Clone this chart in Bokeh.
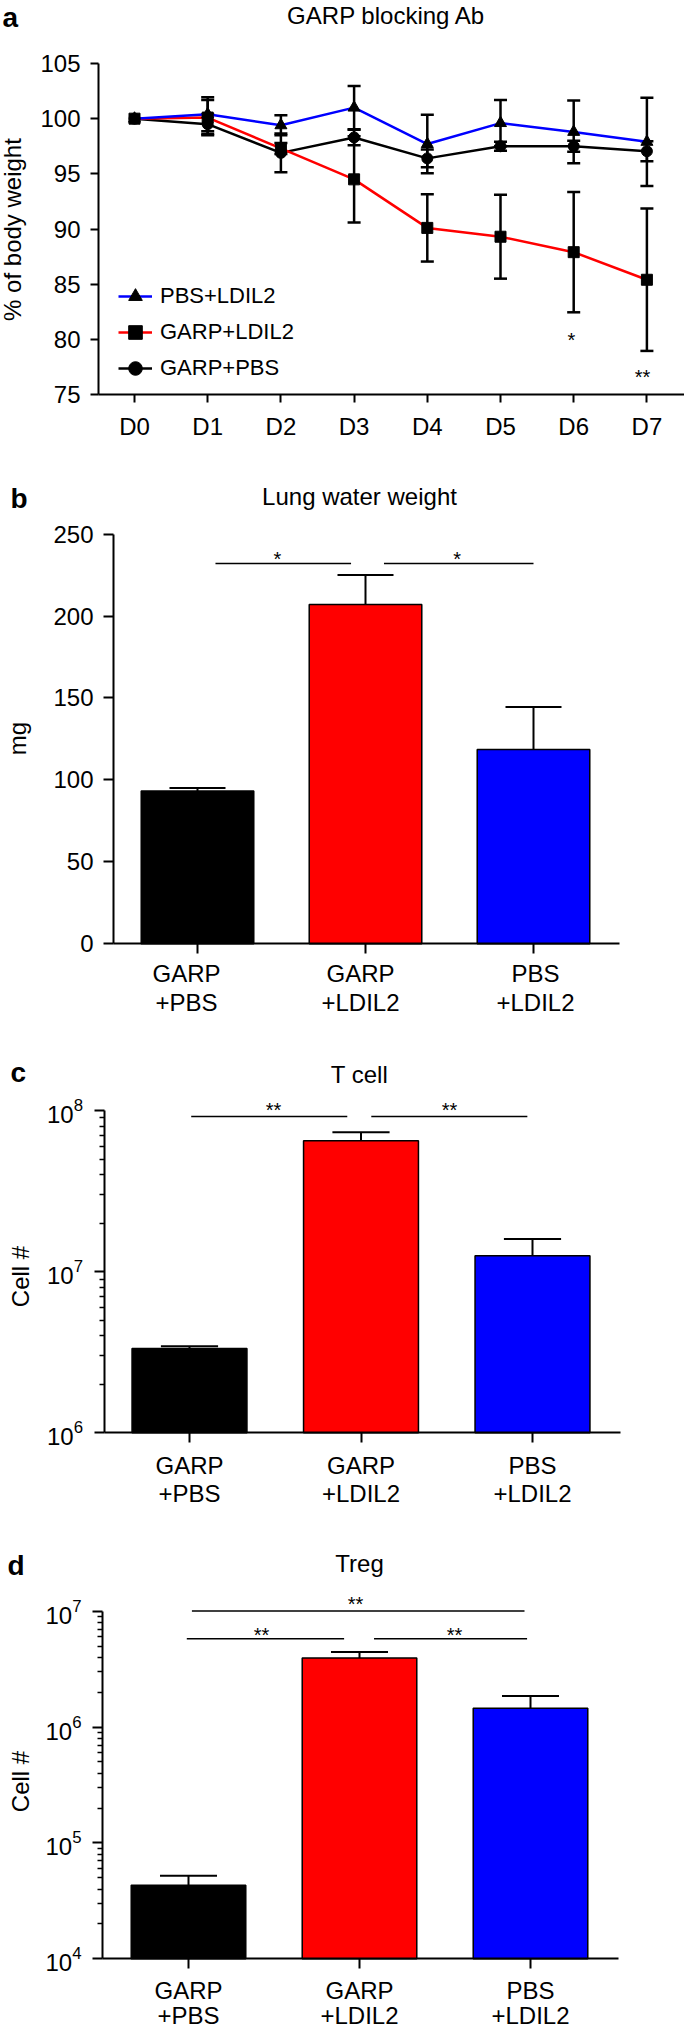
import math
from bokeh.plotting import figure
from bokeh.models import Range1d, FixedTicker, Label, Legend, LegendItem
from bokeh.layouts import column
from bokeh.embed import file_html
from bokeh.resources import INLINE

FONT = "Liberation Sans"
PAGE_W = 684
MID = 0.345    # distance (in em) from the baseline to the middle of the text box

# ---------------- data ----------------
days = ["D0", "D1", "D2", "D3", "D4", "D5", "D6", "D7"]
pbs_ldil2 = [100.0, 100.4, 99.4, 101.0, 97.7, 99.6, 98.8, 97.9]
pbs_ldil2_err = [0.0, 1.55, 0.9, 1.95, 2.65, 2.1, 2.85, 4.0]
garp_ldil2 = [100.0, 100.1, 97.3, 94.5, 90.1, 89.3, 87.9, 85.4]
garp_ldil2_err = [0.0, 1.6, 0.5, 3.9, 3.05, 3.8, 5.45, 6.45]
garp_pbs = [100.0, 99.5, 96.9, 98.3, 96.4, 97.5, 97.5, 97.05]
garp_pbs_err = [0.0, 0.9, 1.75, 0.7, 0.8, 0.4, 0.5, 0.9]
weight_stars = [(6, "*"), (7, "**")]

groups = ["GARP\n+PBS", "GARP\n+LDIL2", "PBS\n+LDIL2"]
lung_water_mg = [93.2, 207.0, 118.5]
lung_water_sem = [1.8, 18.0, 26.0]
tcell_count = [3.34e6, 6.48e7, 1.256e7]
tcell_sem = [0.10e6, 0.85e7, 0.34e7]
treg_count = [4.31e4, 3.94e6, 1.45e6]
treg_sem = [0.9e4, 0.51e6, 0.40e6]

lung_sig = [(0, 1, "*"), (1, 2, "*")]
tcell_sig = [(0, 1, "**"), (1, 2, "**")]
treg_sig = [(0, 1, "**"), (1, 2, "**"), (0, 2, "**")]

BAR_COLORS = ["#000000", "#FF0000", "#0000FF"]


# ---------------- geometry helpers (page pixel -> data) ----------------
class Geo:
    def __init__(self, top, h, L, R, T, B, c0, sp, ylo, yhi, log=False):
        self.top, self.h = top, h
        self.L, self.R, self.T, self.B = L, R, T, B
        self.c0, self.sp = c0, sp
        self.ylo, self.yhi, self.log = ylo, yhi, log

    def x(self, px):
        return (px - self.c0) / self.sp

    def y(self, py):
        f = (self.B - py) / (self.B - self.T)
        if self.log:
            a, b = math.log10(self.ylo), math.log10(self.yhi)
            return 10 ** (a + f * (b - a))
        return self.ylo + f * (self.yhi - self.ylo)


def make_fig(g, tick=8, standoff=10):
    p = figure(width=PAGE_W, height=g.h,
               x_range=Range1d(g.x(0), g.x(PAGE_W)),
               y_range=Range1d(g.y(g.top + g.h), g.y(g.top)),
               y_axis_type="log" if g.log else "linear",
               output_backend="svg", toolbar_location=None,
               min_border_left=0, min_border_right=0,
               min_border_top=0, min_border_bottom=0)
    p.title.visible = False
    p.outline_line_color = None
    p.xgrid.visible = False
    p.ygrid.visible = False
    p.background_fill_color = "white"
    p.border_fill_color = "white"
    xa, ya = p.xaxis[0], p.yaxis[0]
    xa.fixed_location = g.ylo
    xa.bounds = (g.x(g.L), g.x(g.R))
    ya.fixed_location = g.x(g.L)
    ya.bounds = (g.ylo, g.yhi)
    for ax in (xa, ya):
        ax.axis_line_color = "black"
        ax.axis_line_width = 2
        ax.major_tick_line_color = "black"
        ax.major_tick_line_width = 2
        ax.major_tick_in = 0
        ax.major_tick_out = tick
        ax.minor_tick_line_color = None
        ax.major_label_text_font = FONT
        ax.major_label_text_font_size = "24px"
        ax.major_label_text_color = "black"
    ya.major_label_standoff = standoff
    xa.major_label_standoff = 10
    return p


def text(p, g, px, baseline_py, s, fs=24, bold=False, align="center", angle=0.0, data_x=None):
    """Place text so that its baseline lies at page y baseline_py (middle-anchored)."""
    p.add_layout(Label(x=g.x(px) if data_x is None else data_x,
                       y=g.y(baseline_py - MID * fs), text=s,
                       text_font=FONT, text_font_size="%dpx" % fs,
                       text_font_style="bold" if bold else "normal",
                       text_align=align, text_baseline="middle", angle=angle,
                       text_color="black"))


def vtext(p, g, baseline_px, py, s, fs=24):
    """Vertical text reading upwards; its baseline lies at page x baseline_px."""
    p.add_layout(Label(x=g.x(baseline_px - MID * fs), y=g.y(py), text=s,
                       text_font=FONT, text_font_size="%dpx" % fs,
                       text_align="center", text_baseline="middle", angle=math.pi / 2,
                       text_color="black"))


def star(p, g, data_x, center_py, s, fs=20):
    p.add_layout(Label(x=data_x, y=g.y(center_py + 0.235 * fs), text=s,
                       text_font=FONT, text_font_size="%dpx" % fs,
                       text_align="center", text_baseline="middle", text_color="black"))


# ---------------- panel a ----------------
ga = Geo(0, 455, 98, 684, 63, 394, 134, 73.2, 75, 105)
pa = make_fig(ga)
xs = list(range(len(days)))
pa.xaxis[0].ticker = FixedTicker(ticks=xs)
pa.xaxis[0].major_label_overrides = {i: d for i, d in enumerate(days)}
pa.yaxis[0].ticker = FixedTicker(ticks=[75, 80, 85, 90, 95, 100, 105])

series = [
    ("PBS+LDIL2", pbs_ldil2, pbs_ldil2_err, "#0000FF", "triangle", 12),
    ("GARP+LDIL2", garp_ldil2, garp_ldil2_err, "#FF0000", "square", 11),
    ("GARP+PBS", garp_pbs, garp_pbs_err, "#000000", "circle", 11),
]
cap = 0.089
for name, vals, errs, col, mk, sz in series:
    ex = [i for i, e in enumerate(errs) if e > 0]
    lo = [vals[i] - errs[i] for i in ex]
    hi = [vals[i] + errs[i] for i in ex]
    pa.segment(x0=ex, x1=ex, y0=lo, y1=hi, line_color="black", line_width=2.5)
    pa.segment(x0=[i - cap for i in ex] * 2, x1=[i + cap for i in ex] * 2,
               y0=lo + hi, y1=lo + hi, line_color="black", line_width=2.5)

items = []
line_rs = {}
for name, vals, errs, col, mk, sz in [series[2], series[1], series[0]]:
    line_rs[name] = pa.line(xs, vals, line_color=col, line_width=2.5)
for name, vals, errs, col, mk, sz in series:
    sr = pa.scatter(xs, vals, marker=mk, size=sz, fill_color="black", line_color="black")
    items.append(LegendItem(label=name, renderers=[line_rs[name], sr]))

leg = Legend(items=items, location=(118, ga.top + ga.h - 386), orientation="vertical",
             spacing=0, padding=0, margin=0, glyph_width=34, glyph_height=36,
             label_height=36, label_standoff=8, label_text_font=FONT,
             label_text_font_size="22px", label_text_color="black",
             border_line_color=None, background_fill_alpha=0)
pa.add_layout(leg)

text(pa, ga, 2, 27, "a", fs=28, bold=True, align="left")
text(pa, ga, 386, 23.5, "GARP blocking Ab")
vtext(pa, ga, 20.5, 229, "% of body weight")
for (d, s), (dx, cy) in zip(weight_stars, [(-0.03, 335), (-0.06, 372)]):
    star(pa, ga, d + dx, cy, s)


# ---------------- bar panels ----------------
def bar_panel(g, vals, errs):
    p = make_fig(g, tick=10, standoff=10)
    xb = list(range(len(groups)))
    p.xaxis[0].ticker = FixedTicker(ticks=xb)
    p.xaxis[0].major_label_overrides = {i: "" for i in xb}
    p.vbar(x=xb, top=vals, bottom=g.ylo, width=0.67, fill_color=BAR_COLORS,
           line_color="black", line_width=1.5)
    tops = [v + e for v, e in zip(vals, errs)]
    p.segment(x0=xb, x1=xb, y0=vals, y1=tops, line_color="black", line_width=2)
    p.segment(x0=[i - 0.1667 for i in xb], x1=[i + 0.1667 for i in xb], y0=tops, y1=tops,
              line_color="black", line_width=2)
    return p


def group_labels(p, g, base1, base2, centers=None):
    for i, grp in enumerate(groups):
        l1, l2 = grp.split("\n")
        dx = i if centers is None else g.x(centers[i])
        text(p, g, 0, base1, l1, data_x=dx)
        text(p, g, 0, base2, l2, data_x=dx)


def sig(p, g, sigs, spans, star_x, line_py, star_cy):
    x0 = [a for a, b in spans]
    x1 = [b for a, b in spans]
    ys = [g.y(v) for v in line_py]
    p.segment(x0=x0, x1=x1, y0=ys, y1=ys, line_color="black", line_width=1.5)
    for (i, j, s), sx, cy in zip(sigs, star_x, star_cy):
        star(p, g, sx, cy, s)


def log_minor(p):
    ax = p.yaxis[0]
    ax.minor_tick_line_color = "black"
    ax.minor_tick_line_width = 1.5
    ax.minor_tick_in = 0
    ax.minor_tick_out = 5
    ax.major_label_standoff = 11


# panel b
gb = Geo(455, 585, 113, 619, 533.6, 943.3, 197, 168, 0, 250)
pb = bar_panel(gb, lung_water_mg, lung_water_sem)
pb.yaxis[0].ticker = FixedTicker(ticks=[0, 50, 100, 150, 200, 250])
group_labels(pb, gb, 981.7, 1010.7, centers=[186, 360, 535])
sig(pb, gb, lung_sig, [(0.107, 0.914), (1.11, 2.0)], [0.476, 1.545], [562.9, 562.9], [554, 554])
text(pb, gb, 10, 507.5, "b", fs=28, bold=True, align="left")
text(pb, gb, 359, 504, "Lung water weight")
vtext(pb, gb, 25.6, 738, "mg")

# panel c
gc = Geo(1040, 492, 103.5, 620, 1110, 1432.3, 189, 171.5, 1e6, 1e8, log=True)
pc = bar_panel(gc, tcell_count, tcell_sem)
pc.yaxis[0].ticker = FixedTicker(ticks=[1e6, 1e7, 1e8],
                                 minor_ticks=[k * 10 ** n for n in (6, 7) for k in range(2, 10)])
log_minor(pc)
group_labels(pc, gc, 1473.3, 1501.7)
sig(pc, gc, tcell_sig, [(0.01, 0.92), (1.06, 1.97)], [0.49, 1.516], [1116, 1116], [1105, 1105])
text(pc, gc, 10, 1081.7, "c", fs=28, bold=True, align="left")
text(pc, gc, 359, 1082, "T cell")
vtext(pc, gc, 28, 1276, "Cell #")

# panel d
gd = Geo(1532, 498, 102, 618, 1610.7, 1958.3, 188, 171, 1e4, 1e7, log=True)
pd_ = bar_panel(gd, treg_count, treg_sem)
pd_.yaxis[0].ticker = FixedTicker(ticks=[1e4, 1e5, 1e6, 1e7],
                                  minor_ticks=[k * 10 ** n for n in (4, 5, 6) for k in range(2, 10)])
log_minor(pd_)
group_labels(pd_, gd, 1998.5, 2023.5)
sig(pd_, gd, treg_sig, [(-0.01, 0.91), (1.085, 1.98), (0.02, 1.965)],
    [0.427, 1.556, 0.977], [1638.2, 1638.2, 1610.5], [1630, 1630, 1599])
text(pd_, gd, 7, 1575, "d", fs=28, bold=True, align="left")
text(pd_, gd, 359, 1571, "Treg")
vtext(pd_, gd, 28, 1781, "Cell #")

layout = column(pa, pb, pc, pd_, spacing=0)
open("out.html", "w").write(file_html(layout, INLINE))
